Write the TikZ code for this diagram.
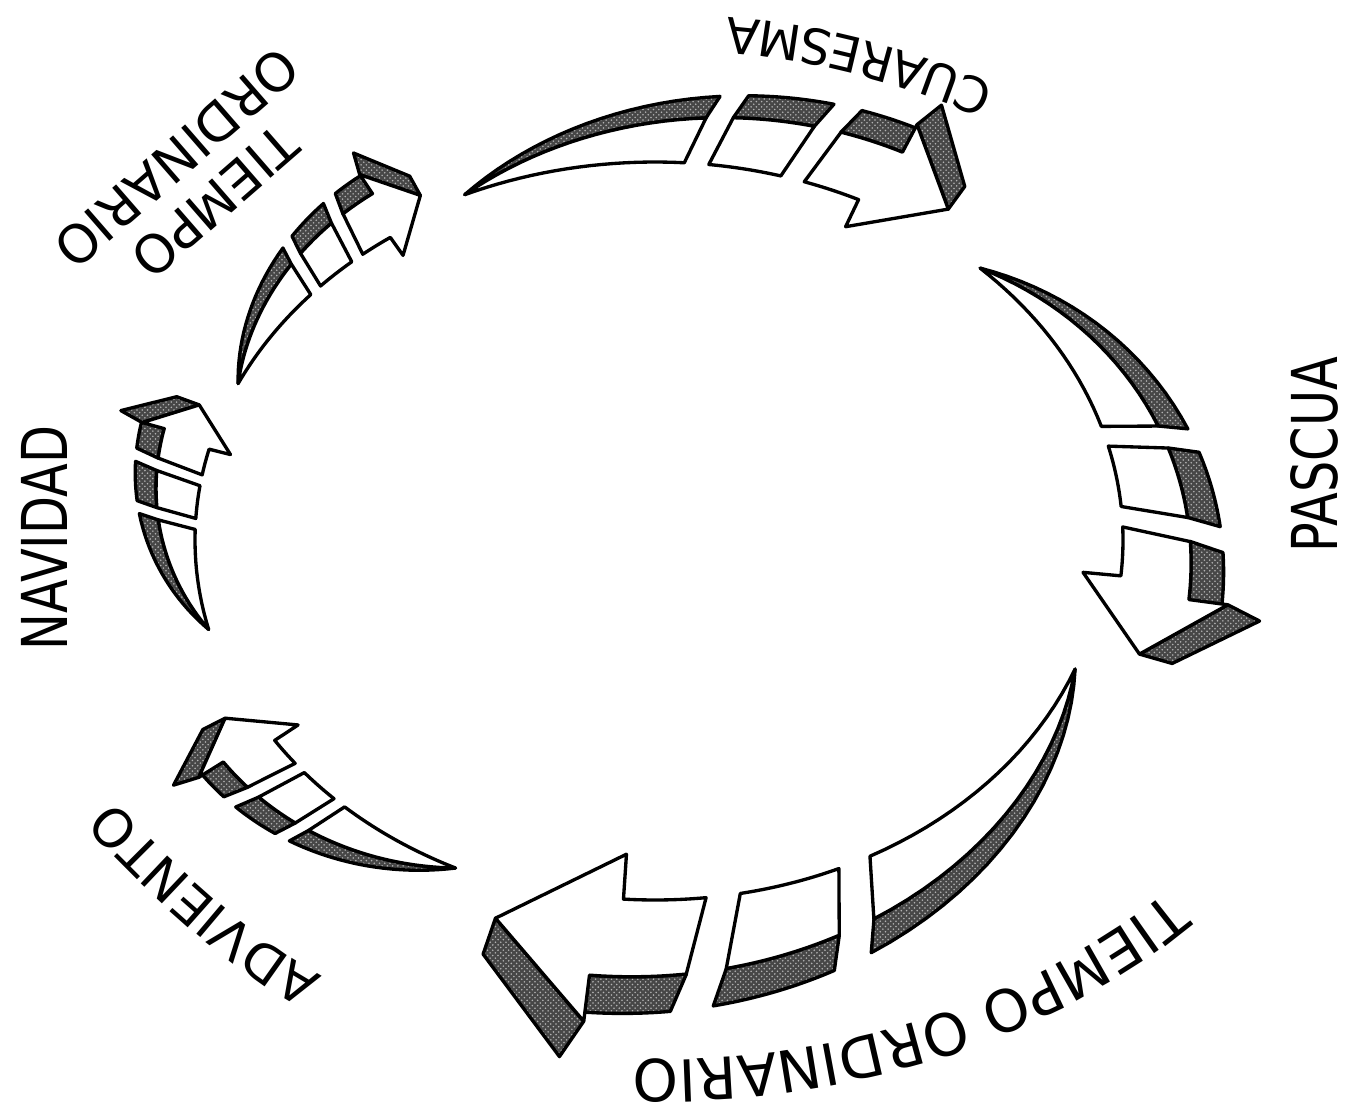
\documentclass[tikz,border=0pt]{standalone}
\usepackage{fontspec}
\setmainfont{DejaVu Sans}
\usetikzlibrary{decorations.text,patterns}

\newcommand{\cuafont}{\fontsize{28}{28}\selectfont}
\newcommand{\advfont}{\fontsize{30}{30}\selectfont}
\newcommand{\ordfont}{\fontsize{33}{33}\selectfont}

\begin{document}
\begin{tikzpicture}[x=0.02cm,y=-0.02cm,line width=1.9pt,line join=round,samples=20,
  rface/.style={draw,fill=white},
  rside/.style={draw,preaction={fill=black!72},pattern=crosshatch dots,pattern color=black!30},
  lab/.style={inner sep=0pt,font=\fontsize{36}{36}\selectfont}]
% pixels, y going down; the ring of arrows follows one ellipse
\useasboundingbox (0,0) rectangle (1363,1111);
\fill[white] (0,0) rectangle (1363,1111);
\def\cx{655}\def\cy{540}\def\ea{500}\def\eb{410}\def\sg{0.035}
% point at fraction #1 of the current arrow, #2 pixels off the ellipse
\newcommand{\elx}[2]{\cx+(\ea+(#2))*cos(\tstart+(#1)*\tspan)}
\newcommand{\ely}[2]{\cy+(\eb+(#2))*sin(\tstart+(#1)*\tspan)}
% outer edge of the white face and of the dark side at fraction #1
\newcommand{\faceout}[1]{\Ri+\Wf*(#1)*(2-(#1))}
\newcommand{\sideout}[1]{\Ri+(\Wf+\Ws)*(#1)*(2-(#1))}
% one piece of ribbon from #1 to #2, #3 = slant of its first cut
\newcommand{\segment}[3]{%
  \draw[rside] plot[domain=#1+#3:#2+\sg] ({\elx{\x}{\faceout{\x}}},{\ely{\x}{\faceout{\x}}})
    -- plot[domain=#2+1.6*\sg:#1+1.6*#3] ({\elx{\x}{\sideout{\x}}},{\ely{\x}{\sideout{\x}}}) -- cycle;
  \draw[rface] plot[domain=#1:#2] ({\elx{\x}{\Ri}},{\ely{\x}{\Ri}})
    -- plot[domain=#2+\sg:#1+#3] ({\elx{\x}{\faceout{\x}}},{\ely{\x}{\faceout{\x}}}) -- cycle;
}
% shaft from #1 to #2, then the head up to the end
\newcommand{\headpart}[2]{%
  \draw[rside] plot[domain=#1+\sg:#2+\sg] ({\elx{\x}{\faceout{\x}}},{\ely{\x}{\faceout{\x}}})
    -- plot[domain=#2+1.6*\sg:#1+1.6*\sg] ({\elx{\x}{\sideout{\x}}},{\ely{\x}{\sideout{\x}}}) -- cycle;
  \draw[rside] ({\elx{#2+\sg}{\Ri+\Wf+\Hb}},{\ely{#2+\sg}{\Ri+\Wf+\Hb}})
    -- ({\elx{1}{\Ri+\Wf/2}},{\ely{1}{\Ri+\Wf/2}})
    -- ({\elx{1}{\Ri+\Wf/2+\Ws}},{\ely{1}{\Ri+\Wf/2+\Ws}})
    -- ({\elx{#2+1.6*\sg}{\Ri+\Wf+\Hb+\Ws}},{\ely{#2+1.6*\sg}{\Ri+\Wf+\Hb+\Ws}}) -- cycle;
  \draw[rface] plot[domain=#1:#2] ({\elx{\x}{\Ri}},{\ely{\x}{\Ri}})
    -- ({\elx{#2}{\Ri-\Hb}},{\ely{#2}{\Ri-\Hb}})
    -- ({\elx{1}{\Ri+\Wf/2}},{\ely{1}{\Ri+\Wf/2}})
    -- ({\elx{#2+\sg}{\Ri+\Wf+\Hb}},{\ely{#2+\sg}{\Ri+\Wf+\Hb}})
    -- plot[domain=#2+\sg:#1+\sg] ({\elx{\x}{\faceout{\x}}},{\ely{\x}{\faceout{\x}}}) -- cycle;
}
% season arrow: #1 -> #2 angles, #3 inner offset, #4 face, #5 side, #6 barb
\newcommand{\season}[6]{%
  \def\tstart{#1}\pgfmathsetmacro{\tspan}{#2-#1}%
  \def\Ri{#3}\def\Wf{#4}\def\Ws{#5}\def\Hb{#6}%
  \segment{0}{0.46}{0}
  \segment{0.51}{0.66}{\sg}
  \headpart{0.71}{0.83}
}
\season{246}{306}{-32}{62}{28}{30}  % cuaresma
\season{314}{376}{-32}{72}{34}{38}  % pascua
\season{21}{109}{-50}{80}{38}{45}   % tiempo ordinario, bottom
\season{116}{153}{-45}{55}{25}{28}  % adviento
\season{166}{200}{-40}{50}{24}{22}  % navidad
\season{205}{241}{-40}{48}{22}{22}  % tiempo ordinario, top
% labels
\node[lab,rotate=90,xscale=0.78] (pascua) at (1314,455) {PASCUA};
\node[lab,rotate=90,xscale=0.78] (navidad) at (44,538) {NAVIDAD};
\node[lab,rotate=221,align=center,font=\fontsize{30}{33}\selectfont] (tiempo) at (196,180) {TIEMPO\\ORDINARIO};
\path[decorate,decoration={text along path,text align=center,text={|\cuafont|CUARESMA}}]
  (1030,102) .. controls (934,52) and (800,16) .. (690,16);
\path[decorate,decoration={text along path,text align=center,text={|\advfont|ADVIENTO}}]
  (340,985) .. controls (258,948) and (159,852) .. (100,785);
\path[decorate,decoration={text along path,text align=center,text={|\ordfont|TIEMPO ORDINARIO}}]
  plot[domain=37:97,samples=40] ({655+700*cos(\x)},{530+530*sin(\x)});
\end{tikzpicture}
\end{document}
